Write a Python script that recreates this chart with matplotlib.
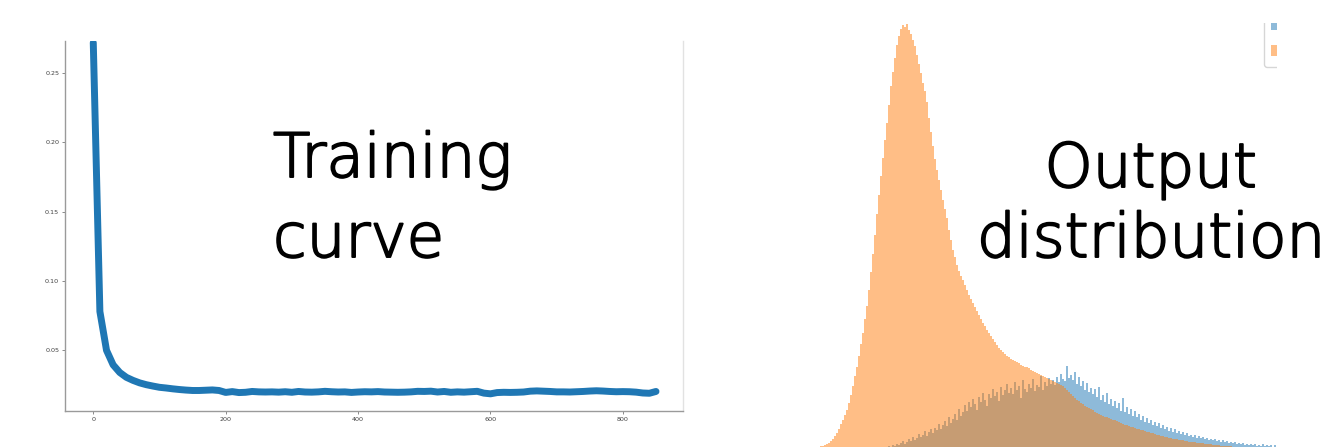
import numpy as np
import matplotlib
matplotlib.use("Agg")
import matplotlib.pyplot as plt
import matplotlib.patheffects as pe
from matplotlib.patches import Rectangle

# ---- training curve (loss per step) ----
steps = list(range(0, 860, 10))
loss = [
    0.272, 0.078, 0.050, 0.0395, 0.034, 0.0305, 0.0283, 0.0265, 0.0252, 0.0242,
    0.0233, 0.0228, 0.0222, 0.0217, 0.0213, 0.0210, 0.0210, 0.0212, 0.0214, 0.0210,
    0.0196, 0.0202, 0.0195, 0.0197, 0.0203, 0.0200, 0.0199, 0.0200, 0.0198, 0.0201,
    0.0197, 0.0203, 0.0199, 0.0198, 0.0200, 0.0204, 0.0201, 0.0199, 0.0200, 0.0196,
    0.0199, 0.0201, 0.0200, 0.0202, 0.0199, 0.0198, 0.0197, 0.0198, 0.0200, 0.0204,
    0.0203, 0.0205, 0.0199, 0.0203, 0.0197, 0.0200, 0.0198, 0.0201, 0.0204, 0.0191,
    0.0186, 0.0195, 0.0197, 0.0196, 0.0197, 0.0199, 0.0205, 0.0207, 0.0205, 0.0203,
    0.0200, 0.0200, 0.0199, 0.0201, 0.0203, 0.0206, 0.0208, 0.0206, 0.0203, 0.0201,
    0.0202, 0.0201, 0.0198, 0.0192, 0.0190, 0.0203,
]
x_ticks = [0, 200, 400, 600, 800]
y_ticks = [0.05, 0.10, 0.15, 0.20, 0.25]

# ---- output distribution (binned counts of model scores) ----
n_bins = 240
negative_counts = [
    2, 2, 3, 3, 4, 4, 5, 6, 7, 9,
    11, 14, 17, 21, 26, 30, 35, 40, 47, 55,
    64, 74, 83, 94, 106, 117, 131, 144, 160, 178,
    196, 215, 236, 255, 274, 292, 310, 327, 345, 364,
    378, 392, 405, 414, 421, 425, 423, 426, 420, 416,
    410, 404, 395, 386, 377, 367, 359, 348, 332, 318,
    304, 291, 280, 270, 260, 250, 241, 232, 220, 210,
    200, 193, 185, 179, 174, 170, 165, 160, 155, 151,
    147, 143, 139, 135, 131, 127, 124, 120, 117, 114,
    111, 108, 105, 102, 100, 98, 96, 94, 93, 91,
    90, 89, 88, 87, 85, 84, 83, 83, 82, 80,
    79, 78, 77, 76, 75, 74, 73, 72, 71, 70,
    69, 68, 67, 66, 65, 64, 62, 60, 58, 56,
    54, 52, 50, 49, 47, 46, 44, 43, 42, 41,
    40, 38, 37, 36, 35, 34, 33, 33, 32, 31,
    30, 30, 29, 28, 27, 26, 25, 25, 24, 23,
    23, 22, 21, 21, 20, 20, 19, 18, 18, 17,
    17, 16, 15, 15, 14, 14, 13, 13, 12, 12,
    11, 11, 11, 10, 10, 10, 9, 9, 8, 8,
    8, 8, 7, 7, 7, 7, 6, 6, 6, 6,
    5, 5, 5, 5, 4, 4, 4, 4, 4, 4,
    3, 3, 3, 3, 3, 3, 3, 3, 2, 2,
    2, 2, 2, 2, 2, 2, 2, 2, 1, 1,
    1, 1, 1, 1, 1, 1, 1, 1, 1, 1,
]
positive_counts = [
    0, 0, 0, 0, 0, 0, 0, 0, 0, 0,
    0, 0, 0, 0, 0, 0, 0, 0, 0, 0,
    0, 0, 0, 0, 0, 0, 0, 0, 0, 0,
    0, 0, 0, 0, 0, 1, 2, 3, 4, 3,
    5, 4, 6, 5, 7, 9, 6, 8, 11, 9,
    13, 10, 12, 16, 13, 15, 19, 14, 18, 21,
    17, 22, 20, 26, 21, 25, 29, 24, 33, 27,
    31, 36, 30, 41, 34, 38, 45, 39, 48, 43,
    51, 46, 40, 53, 48, 57, 50, 44, 56, 52,
    61, 54, 58, 49, 63, 55, 60, 66, 57, 62,
    56, 68, 60, 64, 52, 70, 61, 58, 66, 62,
    71, 59, 65, 63, 74, 60, 68, 64, 72, 66,
    70, 65, 73, 68, 76, 71, 69, 84, 72, 75,
    70, 78, 66, 73, 64, 69, 60, 67, 58, 62,
    56, 61, 53, 63, 50, 55, 48, 57, 46, 51,
    44, 49, 42, 47, 39, 52, 38, 43, 36, 41,
    34, 39, 33, 36, 30, 34, 28, 32, 27, 30,
    25, 28, 24, 27, 22, 25, 21, 23, 19, 22,
    18, 21, 17, 19, 16, 18, 15, 17, 14, 15,
    13, 15, 12, 14, 12, 13, 11, 12, 10, 11,
    10, 11, 9, 10, 8, 10, 8, 9, 7, 8,
    7, 8, 6, 7, 6, 7, 5, 6, 5, 6,
    5, 6, 4, 5, 4, 6, 4, 5, 4, 5,
    3, 5, 3, 4, 0, 0, 0, 0, 0, 0,
]

W, H = 1335, 447
fig = plt.figure(figsize=(W / 100, H / 100), dpi=100)
fig.patch.set_facecolor("white")

# ---- left panel: loss curve ----
ax1 = fig.add_axes([65 / W, (H - 411) / H, (683 - 65) / W, (411 - 40.7) / H])
ax1.plot(steps, loss, color="#1f77b4", lw=5.0, solid_capstyle="round",
         solid_joinstyle="round")
ax1.set_xlim(-42.7, 890.8)
ax1.set_ylim(0.0062, 0.2734)
ax1.set_xticks(x_ticks)
ax1.set_yticks(y_ticks)
ax1.set_yticklabels([f"{v:.2f}" for v in y_ticks])
ax1.spines["top"].set_visible(False)
ax1.spines["right"].set_color("#e2e2e2")
ax1.spines["right"].set_linewidth(1.0)
for side in ("left", "bottom"):
    ax1.spines[side].set_color("#9a9a9a")
    ax1.spines[side].set_linewidth(1.0)
ax1.tick_params(labelsize=4.6, length=2.2, width=0.7, color="#8a8a8a",
                labelcolor="#404040", pad=2)

# ---- right panel: score histogram ----
ax2 = fig.add_axes([780 / W, (H - 450) / H, (W - 780) / W, 450 / H])
edges = np.linspace(0.0, 1.0, n_bins + 1)
centers = 0.5 * (edges[:-1] + edges[1:])
_, _, blue_patches = ax2.hist(centers, bins=edges, weights=positive_counts,
                              histtype="stepfilled", color="#1f77b4", alpha=0.5)
_, _, orange_patches = ax2.hist(centers, bins=edges, weights=negative_counts,
                                histtype="stepfilled", color="#ff7f0e", alpha=0.5)
ax2.set_xlim((780 - 812) / 480, (W - 812) / 480)
ax2.set_ylim(0, 450)
ax2.axis("off")
ax2.legend([blue_patches[0], orange_patches[0]], [" ", " "], loc="lower left",
           bbox_to_anchor=(1264 / W, (H - 67) / H), bbox_transform=fig.transFigure,
           borderaxespad=0, fontsize=12, frameon=True)

# slide background trimming the histogram image
fig.add_artist(Rectangle((1277 / W, 0), (W - 1277) / W, 1, transform=fig.transFigure,
                         facecolor="white", edgecolor="none", zorder=5))
fig.add_artist(Rectangle((780 / W, (H - 23) / H), (W - 780) / W, 23 / H,
                         transform=fig.transFigure, facecolor="white",
                         edgecolor="none", zorder=5))

# ---- slide captions ----
cap = dict(fontsize=44, color="black", family="DejaVu Sans", weight=250,
           va="baseline", zorder=10,
           path_effects=[pe.withStroke(linewidth=1.4, foreground="black")])
fig.text(273 / W, (H - 177) / H, "Training", ha="left", **cap)
fig.text(273 / W, (H - 257) / H, "curve", ha="left", **cap)
fig.text(1151 / W, (H - 187) / H, "Output", ha="center", **cap)
fig.text(977 / W, (H - 257) / H, "distribution", ha="left", **cap)

fig.savefig("out.png", dpi=100)
